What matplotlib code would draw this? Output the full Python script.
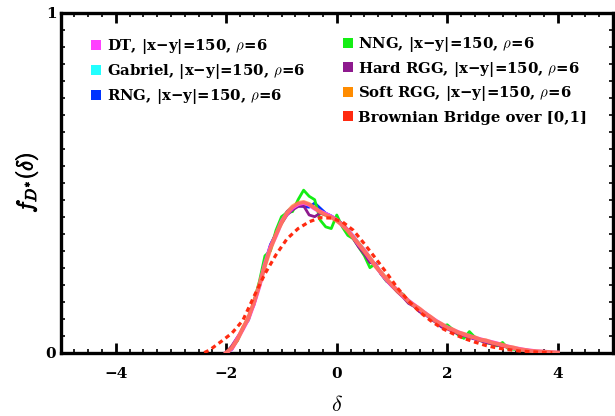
import numpy as np
import matplotlib
matplotlib.use('Agg')
import matplotlib.pyplot as plt
from matplotlib.ticker import MultipleLocator, FixedLocator, FuncFormatter
from matplotlib.lines import Line2D
import matplotlib.patheffects as pe

plt.rcParams['mathtext.fontset'] = 'cm'
plt.rcParams['font.family'] = 'DejaVu Serif'

# ---- data ----
delta = np.round(np.linspace(-2.0, 4.0, 61), 1)

dt = [0.000, 0.012, 0.040, 0.070, 0.100, 0.145, 0.197, 0.260, 0.310, 0.345,
      0.385, 0.410, 0.427, 0.437, 0.441, 0.435, 0.424, 0.415, 0.408, 0.400,
      0.390, 0.375, 0.360, 0.340, 0.318, 0.300, 0.277, 0.256, 0.235, 0.215,
      0.198, 0.183, 0.167, 0.152, 0.140, 0.128, 0.116, 0.104, 0.093, 0.083,
      0.074, 0.067, 0.060, 0.054, 0.049, 0.044, 0.039, 0.035, 0.031, 0.027,
      0.022, 0.018, 0.014, 0.011, 0.008, 0.006, 0.004, 0.003, 0.002, 0.001, 0.000]

gabriel = [0.000, 0.011, 0.042, 0.068, 0.098, 0.150, 0.195, 0.262, 0.312, 0.350,
           0.384, 0.408, 0.425, 0.434, 0.438, 0.432, 0.428, 0.418, 0.410, 0.402,
           0.392, 0.378, 0.362, 0.344, 0.322, 0.303, 0.280, 0.258, 0.238, 0.218,
           0.200, 0.184, 0.168, 0.154, 0.141, 0.127, 0.117, 0.105, 0.094, 0.082,
           0.075, 0.066, 0.061, 0.053, 0.050, 0.043, 0.040, 0.034, 0.031, 0.027,
           0.021, 0.018, 0.014, 0.011, 0.009, 0.006, 0.004, 0.003, 0.002, 0.001, 0.000]

rng = [0.000, 0.010, 0.038, 0.072, 0.102, 0.148, 0.200, 0.265, 0.318, 0.350,
       0.388, 0.415, 0.428, 0.432, 0.430, 0.428, 0.440, 0.425, 0.410, 0.402,
       0.392, 0.378, 0.358, 0.338, 0.315, 0.295, 0.272, 0.255, 0.232, 0.212,
       0.195, 0.182, 0.168, 0.150, 0.137, 0.126, 0.114, 0.102, 0.090, 0.080,
       0.072, 0.064, 0.057, 0.051, 0.046, 0.041, 0.037, 0.032, 0.028, 0.024,
       0.020, 0.016, 0.013, 0.010, 0.007, 0.005, 0.004, 0.002, 0.001, 0.000, 0.000]

nng = [0.000, 0.015, 0.035, 0.075, 0.095, 0.150, 0.210, 0.285, 0.300, 0.360,
       0.400, 0.412, 0.415, 0.450, 0.478, 0.460, 0.450, 0.390, 0.370, 0.365,
       0.405, 0.370, 0.345, 0.335, 0.310, 0.285, 0.250, 0.262, 0.232, 0.210,
       0.200, 0.180, 0.172, 0.148, 0.138, 0.122, 0.118, 0.100, 0.090, 0.078,
       0.082, 0.068, 0.052, 0.042, 0.062, 0.045, 0.036, 0.030, 0.026, 0.020,
       0.030, 0.012, 0.010, 0.008, 0.005, 0.004, 0.003, 0.002, 0.001, 0.000, 0.000]

hard_rgg = [0.000, 0.020, 0.045, 0.068, 0.105, 0.140, 0.200, 0.255, 0.315, 0.350,
            0.380, 0.405, 0.420, 0.430, 0.432, 0.405, 0.400, 0.410, 0.405, 0.400,
            0.388, 0.380, 0.362, 0.335, 0.310, 0.290, 0.265, 0.262, 0.232, 0.212,
            0.195, 0.178, 0.163, 0.145, 0.136, 0.120, 0.112, 0.100, 0.088, 0.075,
            0.070, 0.062, 0.055, 0.050, 0.045, 0.040, 0.035, 0.030, 0.026, 0.022,
            0.019, 0.016, 0.013, 0.010, 0.008, 0.006, 0.004, 0.003, 0.002, 0.001, 0.000]

soft_rgg = [0.000, 0.014, 0.038, 0.072, 0.103, 0.148, 0.200, 0.256, 0.306, 0.348,
            0.382, 0.412, 0.430, 0.440, 0.443, 0.437, 0.426, 0.414, 0.405, 0.398,
            0.388, 0.376, 0.358, 0.338, 0.320, 0.298, 0.279, 0.254, 0.236, 0.217,
            0.199, 0.181, 0.168, 0.151, 0.139, 0.129, 0.115, 0.105, 0.092, 0.084,
            0.073, 0.068, 0.059, 0.055, 0.048, 0.045, 0.038, 0.036, 0.030, 0.026,
            0.023, 0.017, 0.015, 0.010, 0.008, 0.005, 0.004, 0.003, 0.002, 0.001, 0.000]

bb_delta = [-2.4, -2.3, -2.1, -1.9, -1.7, -1.5, -1.3, -1.1, -0.9, -0.7,
            -0.5, -0.3, -0.1, 0.1, 0.3, 0.5, 0.7, 0.9, 1.1, 1.3,
            1.5, 1.7, 1.9, 2.1, 2.3, 2.5, 2.7, 2.9, 3.1, 3.3,
            3.5, 3.7, 3.9]
brownian = [0.0, 0.008, 0.032, 0.057, 0.095, 0.165, 0.232, 0.288, 0.335, 0.365,
            0.385, 0.397, 0.396, 0.385, 0.360, 0.320, 0.278, 0.235, 0.190, 0.152,
            0.120, 0.094, 0.072, 0.056, 0.042, 0.031, 0.021, 0.014, 0.009, 0.005,
            0.003, 0.001, 0.0]

x_ticks = [-4, -2, 0, 2, 4]
y_ticks = [0, 1]

names_left = ['DT', 'Gabriel', 'RNG']
names_right = ['NNG', 'Hard RGG', 'Soft RGG']
bb_label = 'Brownian Bridge over [0,1]'

c_dt = '#FF40FF'
c_gab = '#22FFFF'
c_rng = '#0033FF'
c_nng = '#14EE14'
c_hard = '#8E1A8E'
c_soft = '#FF8C00'
c_bb = '#FF2A10'

# ---- figure ----
fig = plt.figure(figsize=(6.15, 4.16), dpi=100)
ax = fig.add_axes([0.0984, 0.1522, 0.8984, 0.8173])

ax.plot(delta, gabriel, color=c_gab, lw=2.0, zorder=2)
ax.plot(delta, rng, color=c_rng, lw=2.0, zorder=2)
ax.plot(delta, nng, color=c_nng, lw=2.0, zorder=2)
ax.plot(delta, hard_rgg, color=c_hard, lw=2.0, zorder=2)
ax.plot(delta, dt, color=c_dt, lw=3.0, zorder=3)
ax.plot(delta, soft_rgg, color=c_soft, lw=3.0, alpha=0.6, zorder=3)
ax.plot(bb_delta, brownian, color=c_bb, lw=2.3, ls=(0, (1.5, 1.2)), zorder=4)

ax.set_xlim(-5, 5)
ax.set_ylim(0, 1)
ax.xaxis.set_major_locator(FixedLocator(x_ticks))
ax.xaxis.set_minor_locator(MultipleLocator(0.25))
ax.yaxis.set_major_locator(FixedLocator(y_ticks))
ax.yaxis.set_minor_locator(MultipleLocator(0.05))

def fmt(v, pos):
    return ('%d' % round(v)).replace('-', '\u2212')

ax.xaxis.set_major_formatter(FuncFormatter(fmt))
ax.yaxis.set_major_formatter(FuncFormatter(fmt))

ax.tick_params(which='both', direction='in', top=True, right=True)
ax.tick_params(which='major', length=7, width=2, labelsize=11)
ax.tick_params(which='minor', length=3.2, width=1.2)
ax.tick_params(axis='x', which='major', pad=10)
ax.tick_params(axis='y', which='major', pad=3)
for lbl in ax.get_xticklabels() + ax.get_yticklabels():
    lbl.set_fontweight('bold')
for s in ax.spines.values():
    s.set_linewidth(2.4)

ax.set_ylabel(r'$f_{D^{\ast}}(\delta)$', fontsize=16, labelpad=4,
              path_effects=[pe.withStroke(linewidth=0.7, foreground='black')])
ax.set_xlabel(r'$\delta$', fontsize=16, labelpad=10)

def lab(name):
    return name + ', |x\u2212y|=150, $\\rho$=6'

def handle(c):
    return Line2D([], [], marker='s', ls='none', markersize=6.5,
                  markeredgewidth=0, color=c)

leg_kw = dict(loc='upper left', frameon=False, handlelength=0.7,
              handletextpad=0.37, labelspacing=0.39, borderpad=0, borderaxespad=0,
              prop={'family': 'DejaVu Serif', 'weight': 'bold', 'size': 10.7})

leg1 = ax.legend([handle(c) for c in [c_dt, c_gab, c_rng]],
                 [lab(n) for n in names_left],
                 bbox_to_anchor=(0.0554, 0.928), **leg_kw)
ax.add_artist(leg1)
leg2 = ax.legend([handle(c) for c in [c_nng, c_hard, c_soft]],
                 [lab(n) for n in names_right],
                 bbox_to_anchor=(0.5102, 0.935), **leg_kw)
ax.add_artist(leg2)
ax.legend([handle(c_bb)], [bb_label],
          bbox_to_anchor=(0.5102, 0.712), **leg_kw)

fig.savefig('out.png', dpi=100)
